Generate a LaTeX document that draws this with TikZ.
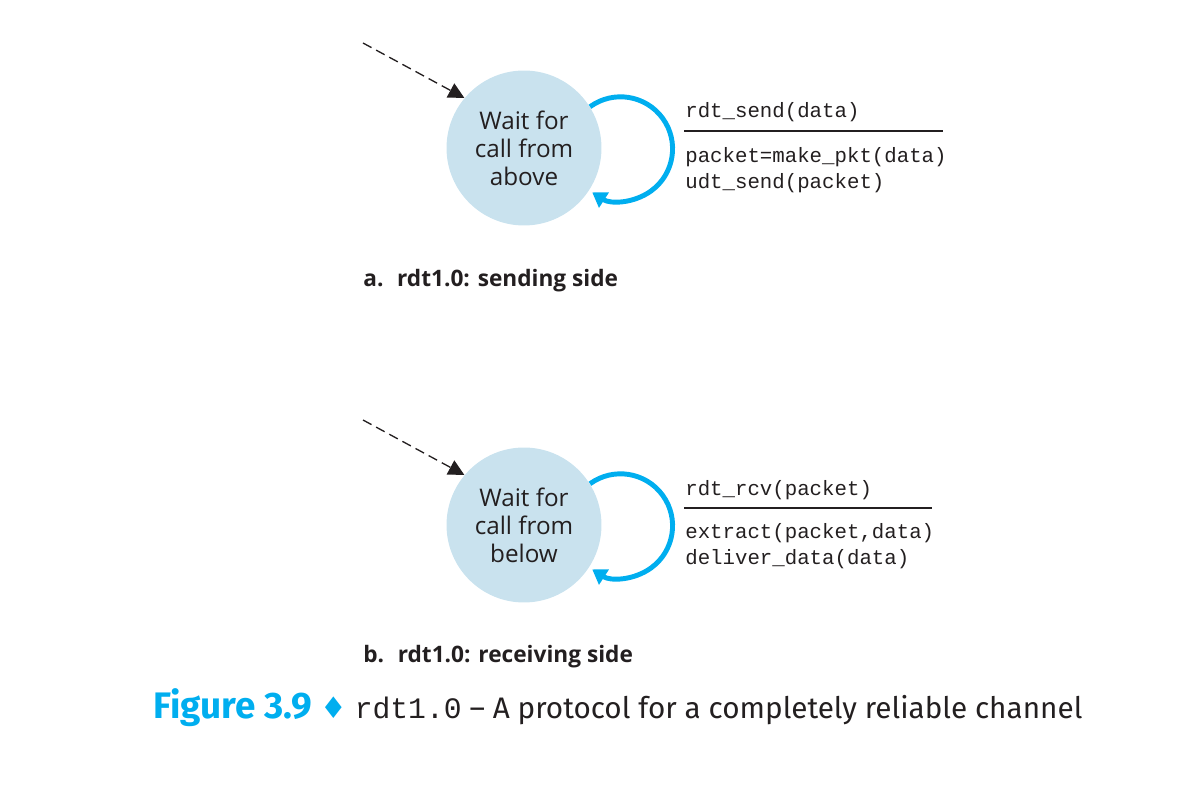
\documentclass[tikz,border=0pt]{standalone}
\usepackage{fontspec}
\setmainfont{Open Sans}
\setmonofont{Liberation Mono}
\newfontfamily\capfont{Fira Sans}
\newfontfamily\symfont{DejaVu Sans}
\usetikzlibrary{arrows.meta,positioning}

\definecolor{statefill}{RGB}{201,226,238}
\definecolor{loopblue}{RGB}{0,174,239}
\definecolor{ink}{RGB}{35,31,32}

\tikzset{
	state/.style    = {circle, fill=statefill, minimum size=3.1cm, inner sep=0pt,
		align=center, text=ink, font=\fontsize{13.8}{15.9}\selectfont},
	trigger/.style  = {anchor=base west, inner sep=0pt, text=ink,
		font=\ttfamily\fontsize{11.8}{14.8}\selectfont},
	action/.style   = {trigger, align=left},
	sublabel/.style = {anchor=base west, inner sep=0pt, text=ink,
		font=\bfseries\fontsize{12.9}{15}\selectfont},
	rule/.style     = {draw=ink, line width=0.6pt},
	init/.style     = {draw=ink, line width=0.75pt, dash pattern=on 5.5pt off 3pt,
		-{Triangle[length=9pt, width=9pt]}},
	selfloop/.style = {draw=loopblue, line width=2.8pt,
		-{Triangle[length=8pt, width=10pt]}}
}

\begin{document}
\begin{tikzpicture}[x=0.02cm, y=0.02cm]
\useasboundingbox (0,0) rectangle (1194,788);

% a. sending side
\node[state] (wa) at (524,640) {Wait for\\call from\\above};
\coordinate (sa) at (363,745);
\draw[init] (sa) -- (wa.140);
\draw[selfloop] (wa.32) arc[start angle=126, end angle=-123, radius=52];
\node[trigger] (ea) at (685,670) {rdt\_send(data)};
\draw[rule] (684,657) -- (943,657);
% base of a two-line node is its last line
\node[action] (aa) at (685,599) {packet=make\_pkt(data)\\udt\_send(packet)};
\node[sublabel] (la) at (363,501) {a.\hspace{0.6em}rdt1.0: sending side};

% b. receiving side
\node[state] (wb) at (524,263) {Wait for\\call from\\below};
\coordinate (sb) at (363,368);
\draw[init] (sb) -- (wb.140);
\draw[selfloop] (wb.32) arc[start angle=126, end angle=-123, radius=52];
\node[trigger] (eb) at (685,292) {rdt\_rcv(packet)};
\draw[rule] (684,280) -- (932,280);
\node[action] (ab) at (685,223) {extract(packet,data)\\deliver\_data(data)};
\node[sublabel] (lb) at (363,125) {b.\hspace{0.6em}rdt1.0: receiving side};

% caption
\node[anchor=base west, inner sep=0pt, text=ink, font=\capfont\fontsize{16.9}{20}\selectfont] (cap) at (153,69)
	{{\bfseries\fontsize{21}{22}\selectfont\color{loopblue}Figure 3.9} {\symfont\color{loopblue}\char"2666} \texttt{rdt1.0} – A protocol for a completely reliable channel};

\end{tikzpicture}
\end{document}
